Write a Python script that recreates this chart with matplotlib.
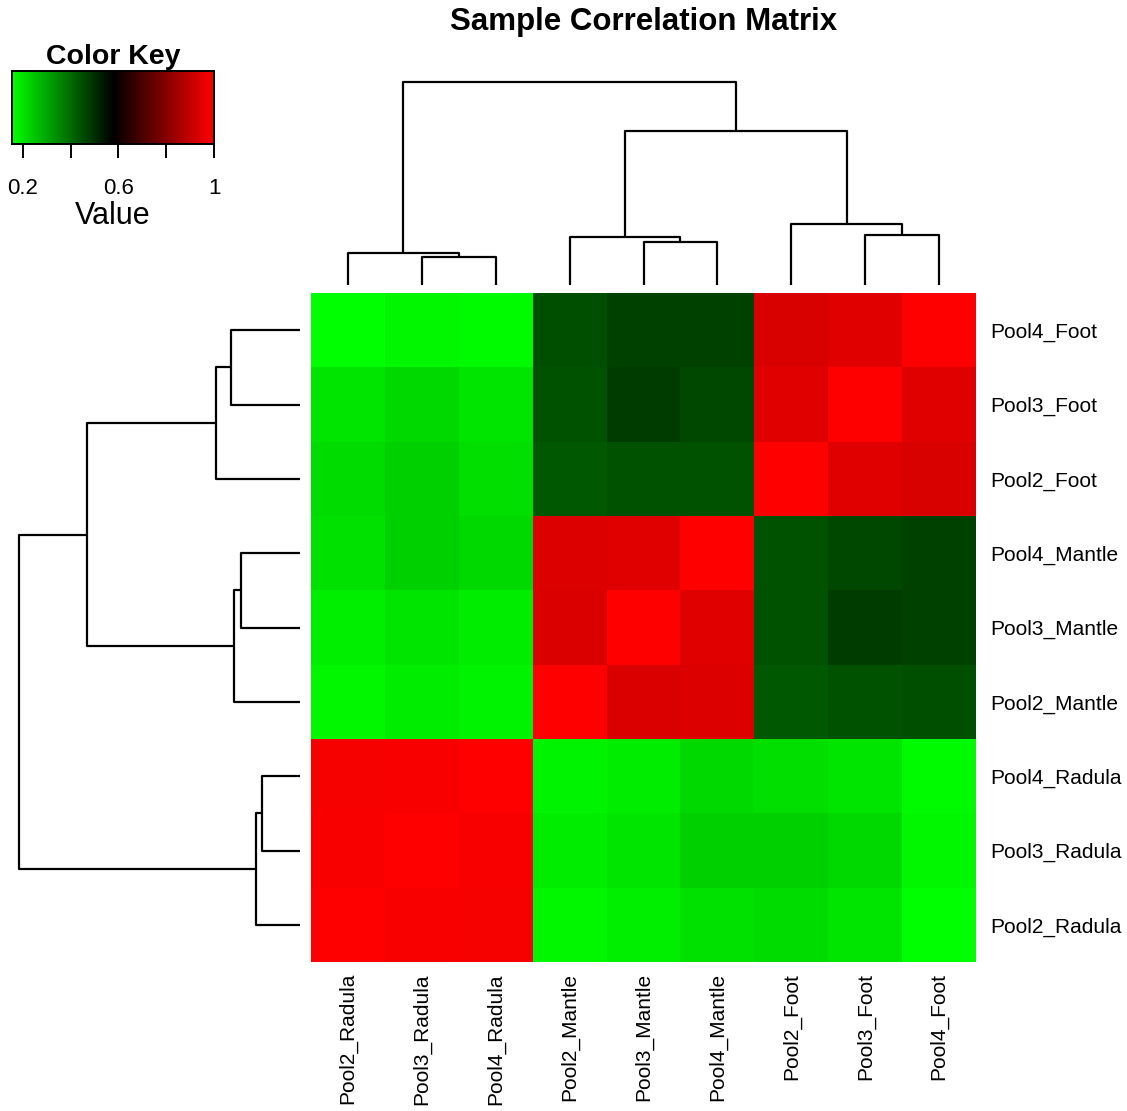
import numpy as np
import matplotlib
matplotlib.use("Agg")
import matplotlib.pyplot as plt
from matplotlib.colors import LinearSegmentedColormap

plt.rcParams['font.family'] = ['Liberation Sans', 'DejaVu Sans']

# leaf order used on both axes (columns left->right, rows bottom->top)
samples = ["Pool2_Radula", "Pool3_Radula", "Pool4_Radula",
           "Pool2_Mantle", "Pool3_Mantle", "Pool4_Mantle",
           "Pool2_Foot", "Pool3_Foot", "Pool4_Foot"]

# pairwise correlations (upper triangle, same order as samples)
corr = np.array([
    # R2    R3     R4     M2     M3     M4     F2     F3     F4
    [1.000, 0.990, 0.985, 0.168, 0.182, 0.205, 0.215, 0.200, 0.154],
    [0.000, 1.000, 0.988, 0.187, 0.198, 0.236, 0.236, 0.220, 0.170],
    [0.000, 0.000, 1.000, 0.175, 0.187, 0.220, 0.210, 0.200, 0.162],
    [0.000, 0.000, 0.000, 1.000, 0.940, 0.941, 0.431, 0.444, 0.448],
    [0.000, 0.000, 0.000, 0.000, 1.000, 0.950, 0.444, 0.481, 0.469],
    [0.000, 0.000, 0.000, 0.000, 0.000, 1.000, 0.444, 0.461, 0.469],
    [0.000, 0.000, 0.000, 0.000, 0.000, 0.000, 1.000, 0.950, 0.934],
    [0.000, 0.000, 0.000, 0.000, 0.000, 0.000, 0.000, 1.000, 0.950],
    [0.000, 0.000, 0.000, 0.000, 0.000, 0.000, 0.000, 0.000, 1.000],
])
corr = np.triu(corr) + np.triu(corr, 1).T

# hierarchical merges: (child a, child b, height); ids >= 9 are earlier merges
merges = [
    (1, 2, 0.137),
    (0, 9, 0.157),
    (4, 5, 0.210),
    (3, 11, 0.235),
    (7, 8, 0.245),
    (6, 13, 0.298),
    (12, 14, 0.758),
    (10, 15, 1.000),
]

key_ticks = [0.2, 0.4, 0.6, 0.8, 1.0]
key_labels = ["0.2", "", "0.6", "", "1"]

vmin, vmax = corr.min(), corr.max()
cmap = LinearSegmentedColormap.from_list("greenred", ["#00FF00", "#000000", "#FF0000"], N=256)

W, H = 1127, 1111
fig = plt.figure(figsize=(W / 100, H / 100), dpi=100)


def px_axes(left, top, right, bottom):
    return fig.add_axes([left / W, 1 - bottom / H, (right - left) / W, (bottom - top) / H])


def dendro_segments(n, merges):
    pos = {i: float(i) for i in range(n)}
    hgt = {i: 0.0 for i in range(n)}
    segs = []
    for k, (a, b, h) in enumerate(merges):
        node = n + k
        segs.append(([pos[a], pos[a], pos[b], pos[b]], [hgt[a], h, h, hgt[b]]))
        pos[node] = (pos[a] + pos[b]) / 2
        hgt[node] = h
    return segs


n = len(samples)
segs = dendro_segments(n, merges)

# heatmap
ax = px_axes(311, 293, 976, 962)
ax.pcolormesh(np.arange(n + 1) - 0.5, np.arange(n + 1) - 0.5, corr,
              cmap=cmap, vmin=vmin, vmax=vmax)
ax.set_xlim(-0.5, n - 0.5)
ax.set_ylim(-0.5, n - 0.5)
for s in ax.spines.values():
    s.set_visible(False)
ax.set_xticks(range(n))
ax.set_xticklabels(samples, rotation=90, fontsize=15, va="top")
ax.set_yticks(range(n))
ax.set_yticklabels(samples, fontsize=15)
ax.yaxis.tick_right()
ax.tick_params(axis="x", length=0, pad=8)
ax.tick_params(axis="y", length=0, pad=10)

# column dendrogram
axc = px_axes(311, 81.7, 976, 285)
for xs, ys in segs:
    axc.plot(xs, ys, color="black", lw=1.6, clip_on=False, solid_capstyle="butt")
axc.set_xlim(-0.5, n - 0.5)
axc.set_ylim(0, 1.0)
axc.axis("off")

# row dendrogram
axr = px_axes(19.3, 293, 300, 962)
for xs, ys in segs:
    axr.plot(ys, xs, color="black", lw=1.6, clip_on=False, solid_capstyle="butt")
axr.set_ylim(-0.5, n - 0.5)
axr.set_xlim(1.0, 0)
axr.axis("off")

# color key
axk = px_axes(12, 70.7, 214, 144.3)
grad = np.linspace(vmin, vmax, 256).reshape(1, -1)
axk.imshow(grad, aspect="auto", cmap=cmap, vmin=vmin, vmax=vmax,
           extent=[vmin, vmax, 0, 1])
axk.set_xlim(vmin, vmax)
axk.set_yticks([])
axk.set_xticks(key_ticks)
axk.set_xticklabels(key_labels, fontsize=16)
axk.tick_params(axis="x", length=10, width=1.4, pad=14)
for s in axk.spines.values():
    s.set_linewidth(1.4)
axk.set_title("Color Key", fontsize=20.5, fontweight="bold", pad=5)
fig.text(113 / W, 1 - 224 / H, "Value", ha="center", va="baseline", fontsize=22)

fig.text(644 / W, 1 - 22 / H, "Sample Correlation Matrix", ha="center", va="center",
         fontsize=22.5, fontweight="bold")

fig.savefig("out.png", dpi=100)
